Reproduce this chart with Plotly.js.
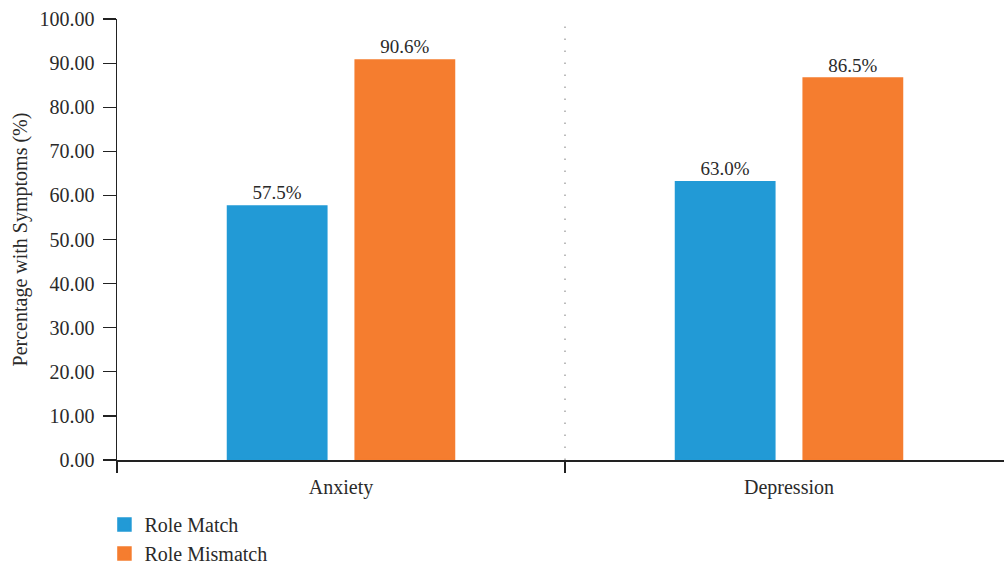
<!DOCTYPE html>
<html>
<head>
<meta charset="utf-8">
<script src="https://cdn.plot.ly/plotly-3.0.1.min.js"></script>
<style>html,body{margin:0;padding:0;background:#fff;overflow:hidden;}#chart{width:1013px;height:565px;}</style>
</head>
<body>
<div id="chart"></div>
<script>
const categories = ["Anxiety", "Depression"];
const roleMatch = [57.5, 63.0];
const roleMismatch = [90.6, 86.5];
const seriesNames = ["Role Match", "Role Mismatch"];
const yTickVals = [0, 10, 20, 30, 40, 50, 60, 70, 80, 90, 100];

const FONT = "Liberation Serif, Times New Roman, serif";
const TXT = "#2a2a2a";
const BLUE = "#229AD6", ORANGE = "#F57D2F";
const traces = [
  {
    type: "bar", name: seriesNames[0], x: categories, y: roleMatch,
    marker: {color: BLUE, line: {color: BLUE, width: 2.5}},
    texttemplate: "%{y:.1f}%", textposition: "outside", cliponaxis: false,
    textfont: {family: FONT, size: 19, color: TXT}
  },
  {
    type: "bar", name: seriesNames[1], x: categories, y: roleMismatch,
    marker: {color: ORANGE, line: {color: ORANGE, width: 2.5}},
    texttemplate: "%{y:.1f}%", textposition: "outside", cliponaxis: false,
    textfont: {family: FONT, size: 19, color: TXT}
  }
];

const layout = {
  width: 1013, height: 565,
  margin: {l: 117, r: 0, t: 19, b: 105, autoexpand: false},
  paper_bgcolor: "#fff", plot_bgcolor: "#fff",
  font: {family: FONT, size: 19, color: TXT},
  barmode: "group",
  bargap: 0.43,
  bargroupgap: 0.23,
  showlegend: true,
  legend: {
    orientation: "v", x: -0.014, xanchor: "left",
    y: -0.256, yanchor: "bottom",
    font: {family: FONT, size: 20, color: TXT},
    tracegroupgap: 0, bgcolor: "rgba(0,0,0,0)"
  },
  xaxis: {
    type: "category", range: [-0.5, 1.5],
    showline: true, linecolor: "#222", linewidth: 1.5, layer: "above traces",
    ticks: "outside", ticklen: 11, tickwidth: 1.5, tickcolor: "#222",
    tickson: "boundaries", ticklabelstandoff: 8,
    showgrid: false, zeroline: false,
    tickfont: {family: FONT, size: 20, color: TXT}
  },
  yaxis: {
    range: [0, 100], tickvals: yTickVals, tickformat: ".2f",
    showline: true, linecolor: "#222", linewidth: 1.5, layer: "above traces",
    ticks: "outside", ticklen: 13, tickwidth: 1.2, tickcolor: "#222",
    ticklabelstandoff: 4,
    showgrid: false, zeroline: false,
    tickfont: {family: FONT, size: 20, color: TXT},
    title: {text: "Percentage with Symptoms (%)", font: {family: FONT, size: 20, color: TXT}, standoff: 6}
  },
  shapes: [
    {type: "line", xref: "x", yref: "paper", x0: 0.5, x1: 0.5, y0: 0, y1: 1,
     line: {color: "#999", width: 1.3, dash: "1.5px,10.5px"}},
    {type: "line", xref: "paper", yref: "paper", x0: -0.015, x1: 0, y0: 0, y1: 0,
     line: {color: "#222", width: 1.5}}
  ]
};

Plotly.newPlot("chart", traces, layout, {displayModeBar: false, staticPlot: true});
</script>
</body>
</html>
